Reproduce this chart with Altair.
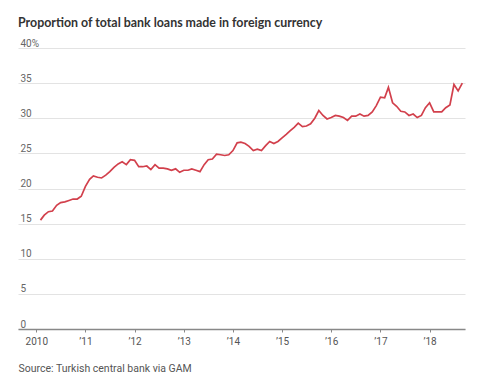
import altair as alt
import pandas as pd

# Monthly data, Feb 2010 .. Sep 2018 (share of loans in foreign currency, %)
start_month = "2010-02-01"
values = [
    15.5, 16.2, 16.7, 16.8, 17.6, 18.0, 18.1, 18.3, 18.5, 18.5, 18.9,          # 2010 Feb-Dec
    20.3, 21.3, 21.8, 21.6, 21.5, 21.9, 22.4, 23.0, 23.5, 23.8, 23.4, 24.1,    # 2011
    24.0, 23.1, 23.1, 23.2, 22.7, 23.4, 22.9, 22.9, 22.8, 22.6, 22.8, 22.3,    # 2012
    22.6, 22.6, 22.8, 22.6, 22.4, 23.4, 24.1, 24.2, 24.9, 24.8, 24.7, 24.8,    # 2013
    25.4, 26.5, 26.6, 26.4, 26.0, 25.4, 25.6, 25.4, 26.1, 26.7, 26.4, 26.7,    # 2014
    27.2, 27.7, 28.2, 28.7, 29.3, 28.8, 28.9, 29.2, 30.0, 31.1, 30.4, 29.9,    # 2015
    30.1, 30.4, 30.3, 30.1, 29.7, 30.3, 30.3, 30.6, 30.3, 30.4, 30.9, 31.8,    # 2016
    33.0, 32.9, 34.4, 32.2, 31.7, 31.0, 30.9, 30.4, 30.6, 30.1, 30.4, 31.5,    # 2017
    32.2, 30.9, 30.9, 30.9, 31.5, 31.9, 34.8, 33.9, 35.0,                      # 2018 Jan-Sep
]
y_ticks = [0, 5, 10, 15, 20, 25, 30, 35, 40]
x_tick_years = ["2010", "2011", "2012", "2013", "2014", "2015", "2016", "2017", "2018"]
title_text = "Proportion of total bank loans made in foreign currency"
source_text = "Source: Turkish central bank via GAM"

dates = pd.date_range(start_month, periods=len(values), freq="MS")
df = pd.DataFrame({"date": dates, "value": values})

x_ticks = [pd.Timestamp(y + "-01-01").isoformat() for y in x_tick_years]

chart = (
    alt.Chart(df)
    .mark_line(color="#d2404c", strokeWidth=1.7, interpolate="linear")
    .encode(
        x=alt.X(
            "date:T",
            scale=alt.Scale(domain=["2009-08-18", "2018-09-21"]),
            axis=alt.Axis(
                values=x_ticks,
                format="%Y",
                labelExpr="year(datum.value) == 2010 ? '2010' : '\u2019' + timeFormat(datum.value, '%y')",
                grid=False,
                domain=True,
                domainColor="#888888",
                domainWidth=1.5,
                ticks=True,
                tickColor="#888888",
                tickSize=3,
                labelColor="#555555",
                labelFont="Roboto",
                labelFontSize=10,
                labelPadding=4,
                title=source_text,
                titleFont="Roboto",
                titleFontSize=10.5,
                titleFontWeight="normal",
                titleColor="#555555",
                titleAnchor="start",
                titleAlign="left",
                titleX=0,
                titleY=34,
            ),
        ),
        y=alt.Y(
            "value:Q",
            scale=alt.Scale(domain=[0, 40]),
            axis=alt.Axis(
                values=y_ticks,
                labelExpr="datum.value == 40 ? '40%' : datum.label",
                grid=True,
                gridColor="#e3e3e3",
                gridWidth=1,
                domain=False,
                ticks=False,
                labelAlign="left",
                labelBaseline="bottom",
                labelPadding=-2,
                labelOffset=0,
                labelColor="#666666",
                labelFont="Roboto",
                labelFontSize=10,
                title=None,
            ),
        ),
    )
    .properties(
        width=447,
        height=281,
        padding={"left": 10, "top": 40, "right": 27, "bottom": 48},
        autosize=alt.AutoSizeParams(type="none"),
        title=alt.TitleParams(
            text=title_text,
            anchor="start",
            frame="group",
            font="Lato",
            fontSize=12.4,
            fontWeight="bold",
            color="#333333",
            offset=9,
        ),
    )
    .configure_view(stroke=None)
)

chart.save("out.html", embed_options={"renderer": "svg", "actions": False})
